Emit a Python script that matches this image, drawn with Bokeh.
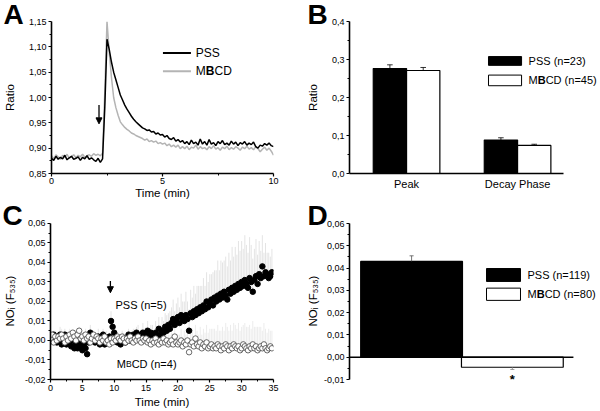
import numpy as np
from bokeh.plotting import figure
from bokeh.layouts import row, column
from bokeh.models import (FixedTicker, CustomJSTickFormatter, Label, Arrow,
                          NormalHead, Range1d)
from bokeh.embed import file_html
from bokeh.resources import INLINE

FONT = "Liberation Sans"

# ---------------- Panel A data (ratio traces, sampled every 0.1 min) ----------
a_step = 0.1
a_pss = [0.880, 0.876, 0.884, 0.878, 0.882, 0.879, 0.886, 0.877, 0.881, 0.884,
         0.878, 0.880, 0.883, 0.876, 0.882, 0.879, 0.885, 0.878, 0.881, 0.877,
         0.874, 0.880, 0.872, 0.879, 0.980, 1.115, 1.095, 1.070, 1.050, 1.035,
         1.020, 1.005, 0.995, 0.985, 0.977, 0.970, 0.963, 0.957, 0.952, 0.948,
         0.944, 0.940, 0.938, 0.935, 0.936, 0.932, 0.933, 0.928, 0.930, 0.926,
         0.927, 0.922, 0.925, 0.919, 0.917, 0.921, 0.914, 0.917, 0.912, 0.915,
         0.909, 0.913, 0.907, 0.916, 0.909, 0.912, 0.906, 0.918, 0.908, 0.913,
         0.906, 0.917, 0.908, 0.911, 0.905, 0.913, 0.909, 0.915, 0.907, 0.910,
         0.906, 0.914, 0.908, 0.912, 0.905, 0.911, 0.908, 0.913, 0.906, 0.910,
         0.907, 0.912, 0.903, 0.900, 0.906, 0.904, 0.909, 0.906, 0.910, 0.905,
         0.903]
a_mbcd = [0.885, 0.879, 0.887, 0.883, 0.878, 0.886, 0.882, 0.888, 0.880, 0.884,
          0.887, 0.881, 0.886, 0.883, 0.888, 0.882, 0.885, 0.887, 0.884, 0.889,
          0.886, 0.888, 0.885, 0.890, 1.010, 1.150, 1.090, 1.040, 1.000, 0.980,
          0.965, 0.952, 0.946, 0.941, 0.937, 0.934, 0.930, 0.928, 0.925, 0.923,
          0.921, 0.919, 0.916, 0.918, 0.913, 0.915, 0.912, 0.914, 0.909, 0.911,
          0.908, 0.910, 0.905, 0.908, 0.903, 0.906, 0.902, 0.906, 0.899, 0.903,
          0.899, 0.904, 0.897, 0.902, 0.900, 0.906, 0.898, 0.903, 0.899, 0.901,
          0.897, 0.903, 0.899, 0.905, 0.898, 0.901, 0.896, 0.902, 0.899, 0.904,
          0.897, 0.901, 0.898, 0.903, 0.900, 0.896, 0.902, 0.899, 0.904, 0.898,
          0.901, 0.897, 0.903, 0.899, 0.893, 0.898, 0.902, 0.896, 0.900, 0.894,
          0.886]

# ---------------- Panel B data ----------------
b_groups = ["Peak", "Decay Phase"]
b_pss = [0.276, 0.088]
b_pss_err = [0.010, 0.006]
b_mbcd = [0.271, 0.074]
b_mbcd_err = [0.008, 0.003]

# ---------------- Panel C data (NO signal, every 0.25 min) ----------------
c_step = 0.25
c_pss = [0.002, 0.000, 0.003, 0.001, -0.001, 0.002, 0.003, -0.002,
         0.000, 0.003, -0.002, 0.001, -0.001, -0.003, 0.000, -0.004,
         -0.002, -0.004, -0.001, -0.003, -0.005, -0.002, -0.004, -0.007,
         -0.001, 0.004, 0.002, 0.000, -0.001, 0.001, 0.002, -0.002,
         0.000, 0.003, -0.002, 0.001, -0.001, 0.002, 0.010, 0.007,
         0.004, 0.001, -0.001, 0.000, -0.002, 0.001, 0.000, -0.001,
         0.001, 0.003, 0.000, 0.002, 0.003, 0.002, 0.004, 0.003,
         0.001, 0.003, 0.004, 0.002, 0.003, 0.005, 0.002, 0.004,
         0.003, 0.001, 0.004, 0.002, 0.006, 0.003, 0.005, 0.004,
         0.007, 0.005, 0.008, 0.006, 0.009, 0.011, 0.008, 0.010,
         0.012, 0.009, 0.013, 0.011, 0.010, 0.013, 0.011, 0.005,
         0.014, 0.012, 0.015, 0.013, 0.016, 0.014, 0.017, 0.015,
         0.018, 0.016, 0.020, 0.017, 0.019, 0.021, 0.018, 0.022,
         0.020, 0.023, 0.021, 0.024, 0.022, 0.025, 0.023, 0.021,
         0.026, 0.024, 0.027, 0.025, 0.028, 0.026, 0.029, 0.027,
         0.030, 0.028, 0.031, 0.029, 0.027, 0.032, 0.030, 0.025,
         0.031, 0.033, 0.029, 0.034, 0.032, 0.038, 0.033, 0.035,
         0.034, 0.032, 0.033, 0.035]
c_pss_err = [0.002, 0.003, 0.002, 0.004, 0.003, 0.002, 0.004, 0.003,
             0.002, 0.003, 0.004, 0.002, 0.003, 0.002, 0.003, 0.004,
             0.003, 0.004, 0.002, 0.003, 0.004, 0.003, 0.002, 0.003,
             0.002, 0.004, 0.003, 0.002, 0.003, 0.002, 0.004, 0.003,
             0.002, 0.003, 0.002, 0.004, 0.003, 0.002, 0.005, 0.004,
             0.003, 0.002, 0.003, 0.002, 0.003, 0.004, 0.002, 0.003,
             0.002, 0.003, 0.004, 0.003, 0.003, 0.004, 0.003, 0.005,
             0.004, 0.003, 0.005, 0.004, 0.004, 0.005, 0.003, 0.004,
             0.005, 0.004, 0.006, 0.005, 0.006, 0.005, 0.007, 0.006,
             0.007, 0.008, 0.006, 0.009, 0.008, 0.010, 0.007, 0.009,
             0.010, 0.008, 0.011, 0.009, 0.010, 0.012, 0.009, 0.011,
             0.012, 0.010, 0.013, 0.011, 0.012, 0.014, 0.011, 0.013,
             0.014, 0.012, 0.015, 0.013, 0.015, 0.013, 0.017, 0.014,
             0.016, 0.018, 0.015, 0.017, 0.018, 0.016, 0.020, 0.017,
             0.019, 0.017, 0.021, 0.018, 0.020, 0.018, 0.022, 0.019,
             0.021, 0.019, 0.023, 0.020, 0.018, 0.021, 0.019, 0.017,
             0.016, 0.019, 0.015, 0.017, 0.014, 0.016, 0.012, 0.015,
             0.011, 0.013, 0.010, 0.012]
c_mbcd = [0.001, 0.003, -0.001, 0.002, 0.000, 0.002, 0.001, 0.003,
          0.001, -0.001, 0.002, 0.000, 0.003, 0.001, 0.004, 0.002,
          0.000, 0.003, 0.005, 0.001, 0.002, 0.000, 0.003, 0.001,
          0.002, -0.001, 0.001, 0.003, 0.000, 0.002, 0.001, -0.001,
          0.001, 0.000, 0.002, -0.001, 0.000, -0.002, 0.001, -0.001,
          0.001, 0.000, 0.002, 0.001, 0.000, 0.002, 0.001, -0.001,
          0.001, 0.000, 0.002, 0.000, -0.001, 0.001, 0.000, 0.002,
          0.000, -0.001, 0.001, 0.000, 0.001, -0.001, 0.000, -0.002,
          0.000, -0.001, 0.001, -0.001, -0.002, 0.000, -0.001, 0.001,
          -0.001, 0.000, -0.002, -0.001, 0.000, -0.002, 0.002, -0.001,
          -0.002, -0.001, 0.000, -0.003, -0.001, -0.002, 0.000, -0.006,
          -0.002, -0.001, -0.003, 0.001, -0.002, -0.003, -0.001, -0.004,
          -0.002, -0.003, -0.001, -0.004, -0.003, -0.002, -0.004, -0.003,
          -0.004, -0.002, -0.003, -0.005, -0.003, -0.004, -0.002, -0.003,
          -0.005, -0.003, -0.004, -0.002, -0.003, -0.004, -0.003, -0.005,
          -0.004, -0.002, -0.003, -0.004, -0.005, -0.003, -0.004, -0.002,
          -0.004, -0.003, -0.005, -0.004, -0.003, -0.004, -0.002, -0.004,
          -0.005, -0.004, -0.003, -0.004]
c_mbcd_err = [0.002, 0.001, 0.003, 0.002, 0.001, 0.002, 0.002, 0.003,
              0.002, 0.001, 0.002, 0.002, 0.003, 0.002, 0.001, 0.002,
              0.002, 0.003, 0.002, 0.001, 0.002, 0.002, 0.003, 0.002,
              0.001, 0.002, 0.003, 0.002, 0.002, 0.001, 0.002, 0.003,
              0.002, 0.002, 0.001, 0.002, 0.003, 0.002, 0.002, 0.001,
              0.002, 0.003, 0.002, 0.002, 0.003, 0.002, 0.003, 0.002,
              0.002, 0.003, 0.003, 0.002, 0.003, 0.002, 0.003, 0.003,
              0.002, 0.003, 0.003, 0.004, 0.003, 0.003, 0.004, 0.003,
              0.003, 0.004, 0.003, 0.004, 0.004, 0.003, 0.004, 0.004,
              0.003, 0.004, 0.005, 0.004, 0.004, 0.005, 0.004, 0.004,
              0.005, 0.004, 0.006, 0.005, 0.006, 0.005, 0.007, 0.006,
              0.006, 0.007, 0.005, 0.007, 0.007, 0.006, 0.008, 0.007,
              0.008, 0.007, 0.009, 0.008, 0.009, 0.008, 0.010, 0.009,
              0.009, 0.010, 0.008, 0.010, 0.010, 0.009, 0.011, 0.010,
              0.010, 0.011, 0.009, 0.011, 0.011, 0.010, 0.012, 0.010,
              0.011, 0.010, 0.012, 0.011, 0.012, 0.011, 0.010, 0.012,
              0.011, 0.010, 0.012, 0.011, 0.010, 0.009, 0.011, 0.010,
              0.009, 0.010, 0.008, 0.009]

# ---------------- Panel D data ----------------
d_labels = ["PSS (n=119)", "MBCD (n=80)"]
d_values = [0.043, -0.0045]
d_errors = [0.0025, 0.001]


def fmt(decimals):
    return CustomJSTickFormatter(
        code="return tick.toFixed(%d).replace('.', ',');" % decimals)


def style(p):
    p.outline_line_color = None
    p.grid.visible = False
    p.background_fill_color = "white"
    p.border_fill_color = "white"
    for ax in p.axis:
        ax.axis_line_width = 1.6
        ax.axis_line_color = "black"
        ax.major_tick_line_width = 1.2
        ax.minor_tick_line_width = 1
        ax.major_tick_in = 0
        ax.major_tick_out = 3
        ax.minor_tick_in = 0
        ax.minor_tick_out = 2
        ax.major_label_text_font = FONT
        ax.major_label_text_font_size = "9px"
        ax.major_label_text_color = "black"
        ax.major_label_standoff = 2
        ax.axis_label_text_font = FONT
        ax.axis_label_text_font_size = "11.5px"
        ax.axis_label_text_font_style = "normal"
        ax.axis_label_text_color = "black"
        ax.axis_label_standoff = 2


def panel_letter(p, letter, offset):
    p.title.text = letter
    p.title.text_font = FONT
    p.title.text_font_size = "28px"
    p.title.text_font_style = "bold"
    p.title.text_color = "black"
    p.title.align = "left"
    p.title.vertical_align = "bottom"
    p.title.offset = offset
    p.title.standoff = -16


def label(p, x, y, text, size="11px", style_="normal", align="left",
          baseline="middle", x_offset=0, color="black"):
    p.add_layout(Label(x=x, y=y, text=text, text_font=FONT,
                       text_font_size=size, text_font_style=style_,
                       text_align=align, text_baseline=baseline,
                       x_offset=x_offset, text_color=color))


def mbcd_label(p, x, y, rest, size=11.0, small_b=False):
    m_w = 0.833 * size
    label(p, x, y, "M", size="%.1fpx" % size)
    if small_b:
        bsz = size * 0.78
        label(p, x, y, "B", size="%.1fpx" % bsz, x_offset=m_w)
        b_w = 0.667 * bsz
    else:
        label(p, x, y, "B", size="%.1fpx" % size, style_="bold", x_offset=m_w)
        b_w = 0.722 * size
    label(p, x, y, "CD" + rest, size="%.1fpx" % size, x_offset=m_w + b_w)


TOP_H = 201
BOT_H = 210

# ================= Panel A =================
pa = figure(width=300, height=TOP_H, output_backend="svg", toolbar_location=None,
            x_range=Range1d(0, 10), y_range=Range1d(0.85, 1.15),
            min_border_left=50, min_border_right=27, min_border_top=21,
            min_border_bottom=25)
style(pa)
panel_letter(pa, "A", -48)
ta = np.arange(len(a_pss)) * a_step
tb = np.arange(len(a_mbcd)) * a_step
pa.line(tb, a_mbcd, line_color="#b4b4b4", line_width=1.5)
pa.line(ta, a_pss, line_color="black", line_width=1.5)
pa.xaxis.ticker = FixedTicker(ticks=[0, 5, 10], minor_ticks=[2.5, 7.5])
pa.xaxis.formatter = fmt(0)
pa.xaxis.major_label_standoff = 1
pa.xaxis.axis_label_standoff = 0
pa.yaxis.ticker = FixedTicker(ticks=[0.85, 0.90, 0.95, 1.00, 1.05, 1.10, 1.15],
                              minor_ticks=[0.875, 0.925, 0.975, 1.025, 1.075, 1.125])
pa.yaxis.formatter = fmt(2)
pa.xaxis.axis_label = "Time (min)"
pa.yaxis.axis_label = "Ratio"
pa.yaxis.axis_label_standoff = 10
pa.add_layout(Arrow(end=NormalHead(size=6, fill_color="black", line_color="black"),
                    x_start=2.14, y_start=0.985, x_end=2.14, y_end=0.948,
                    line_width=1.3))
pa.line([5.02, 6.28], [1.088, 1.088], line_color="black", line_width=2)
pa.line([5.02, 6.28], [1.052, 1.052], line_color="#b4b4b4", line_width=2)
label(pa, 6.5, 1.088, "PSS", size="12px")
mbcd_label(pa, 6.5, 1.052, "", size=12)

# ================= Panel B =================
pb = figure(width=300, height=TOP_H, output_backend="svg", toolbar_location=None,
            x_range=Range1d(0.486, 2.747), y_range=Range1d(0, 0.4),
            min_border_left=49, min_border_right=0, min_border_top=21,
            min_border_bottom=24)
style(pb)
panel_letter(pb, "B", -42)
xpos = np.array([1, 2])
bw = 0.3
pb.vbar(x=xpos - bw / 2, top=b_pss, width=bw, fill_color="black",
        line_color="black", line_width=1.2)
pb.vbar(x=xpos + bw / 2, top=b_mbcd, width=bw, fill_color="white",
        line_color="black", line_width=1.2)
for xs, tops, errs in [(xpos - bw / 2, b_pss, b_pss_err), (xpos + bw / 2, b_mbcd, b_mbcd_err)]:
    tops = np.array(tops)
    errs = np.array(errs)
    pb.segment(x0=xs, y0=tops, x1=xs, y1=tops + errs, line_color="black", line_width=0.8)
    pb.segment(x0=xs - 0.025, y0=tops + errs, x1=xs + 0.025, y1=tops + errs,
               line_color="black", line_width=0.8)
pb.xaxis.ticker = FixedTicker(ticks=[1, 2], minor_ticks=[])
pb.xaxis.major_label_overrides = {1: b_groups[0], 2: b_groups[1]}
pb.xaxis.major_tick_out = 0
pb.xaxis.major_label_standoff = 4
pb.xaxis.major_label_text_font_size = "11px"
pb.xaxis.bounds = (0.486, 2.414)
pb.yaxis.ticker = FixedTicker(ticks=[0, 0.1, 0.2, 0.3, 0.4],
                              minor_ticks=[0.05, 0.15, 0.25, 0.35])
pb.yaxis.formatter = fmt(1)
pb.yaxis.axis_label = "Ratio"
pb.yaxis.axis_label_standoff = 10
# legend
pb.quad(left=1.738, right=2.036, bottom=0.2846, top=0.3077,
        fill_color="black", line_color="black", line_width=1)
pb.quad(left=1.738, right=2.036, bottom=0.231, top=0.259,
        fill_color="white", line_color="black", line_width=1)
label(pb, 2.099, 0.296, "PSS (n=23)")
mbcd_label(pb, 2.099, 0.245, " (n=45)")

# ================= Panel C =================
pc = figure(width=300, height=BOT_H, output_backend="svg", toolbar_location=None,
            x_range=Range1d(0, 35), y_range=Range1d(-0.02, 0.0605),
            min_border_left=50, min_border_right=27, min_border_top=21,
            min_border_bottom=31)
style(pc)
panel_letter(pc, "C", -48)
tc = np.arange(len(c_pss)) * c_step
tm = np.arange(len(c_mbcd)) * c_step
cp = np.array(c_pss)
cm = np.array(c_mbcd)
pc.segment(x0=tc, y0=cp, x1=tc, y1=cp + np.array(c_pss_err),
           line_color="#e4e4e4", line_width=1)
pc.segment(x0=tm, y0=cm, x1=tm, y1=cm + np.array(c_mbcd_err),
           line_color="#ececec", line_width=1)
pc.scatter(tc, cp, size=5.5, fill_color="black", line_color="black")
pc.scatter(tm, cm, size=5.5, fill_color="white", line_color="#444444", line_width=0.8)
pc.xaxis.ticker = FixedTicker(ticks=[0, 5, 10, 15, 20, 25, 30, 35],
                              minor_ticks=[2.5, 7.5, 12.5, 17.5, 22.5, 27.5, 32.5])
pc.xaxis.formatter = fmt(0)
yt = [-0.02, -0.01, 0.0, 0.01, 0.02, 0.03, 0.04, 0.05, 0.06]
pc.yaxis.ticker = FixedTicker(ticks=yt, minor_ticks=[v + 0.005 for v in yt[:-1]])
pc.yaxis.formatter = fmt(2)
pc.yaxis.bounds = (-0.02, 0.06)
pc.xaxis.axis_label = "Time (min)"
pc.yaxis.axis_label = "NOᵢ (F₅₃₅)"
pc.yaxis.axis_label_standoff = 6
pc.add_layout(Arrow(end=NormalHead(size=6, fill_color="black", line_color="black"),
                    x_start=9.4, y_start=0.0305, x_end=9.4, y_end=0.0245,
                    line_width=1.3))
label(pc, 10.2, 0.018, "PSS (n=5)")
mbcd_label(pc, 10.4, -0.0118, " (n=4)", size=11, small_b=True)

# ================= Panel D =================
pd_ = figure(width=300, height=BOT_H, output_backend="svg", toolbar_location=None,
             x_range=Range1d(0, 2.466), y_range=Range1d(-0.01, 0.06045),
             min_border_left=49, min_border_right=0, min_border_top=21,
             min_border_bottom=32)
style(pd_)
panel_letter(pd_, "D", -42)
pd_.xaxis.visible = False
dx = [0.61, 1.6]
pd_.vbar(x=dx, top=d_values, bottom=0, width=1.0,
         fill_color=["black", "white"], line_color="black", line_width=1.2)
pd_.segment(x0=[0], y0=[0], x1=[2.2], y1=[0], line_color="black", line_width=1.6)
d_end = [v + (e if v > 0 else -e) for v, e in zip(d_values, d_errors)]
pd_.segment(x0=dx, y0=d_values, x1=dx, y1=d_end, line_color=["#555555", "#888888"],
            line_width=0.8)
pd_.segment(x0=[x - 0.02 for x in dx], y0=d_end, x1=[x + 0.02 for x in dx], y1=d_end,
            line_color=["#555555", "#888888"], line_width=0.8)
pd_.yaxis.ticker = FixedTicker(ticks=[-0.01, 0.0, 0.01, 0.02, 0.03, 0.04, 0.05, 0.06],
                               minor_ticks=[-0.005, 0.005, 0.015, 0.025, 0.035, 0.045, 0.055])
pd_.yaxis.formatter = fmt(2)
pd_.yaxis.bounds = (-0.01, 0.06)
pd_.yaxis.axis_label = "NOᵢ (F₅₃₅)"
pd_.yaxis.axis_label_standoff = 2
pd_.quad(left=1.346, right=1.68, bottom=0.034, top=0.0398,
         fill_color="black", line_color="black", line_width=1)
pd_.quad(left=1.346, right=1.68, bottom=0.0255, top=0.031,
         fill_color="white", line_color="black", line_width=1)
label(pd_, 1.749, 0.0369, d_labels[0])
mbcd_label(pd_, 1.749, 0.0283, " (n=80)")
label(pd_, 1.6, -0.0098, "*", size="13px", style_="bold", align="center")

layout = column(row(pa, pb), row(pc, pd_))
open("out.html", "w").write(file_html(layout, INLINE))
